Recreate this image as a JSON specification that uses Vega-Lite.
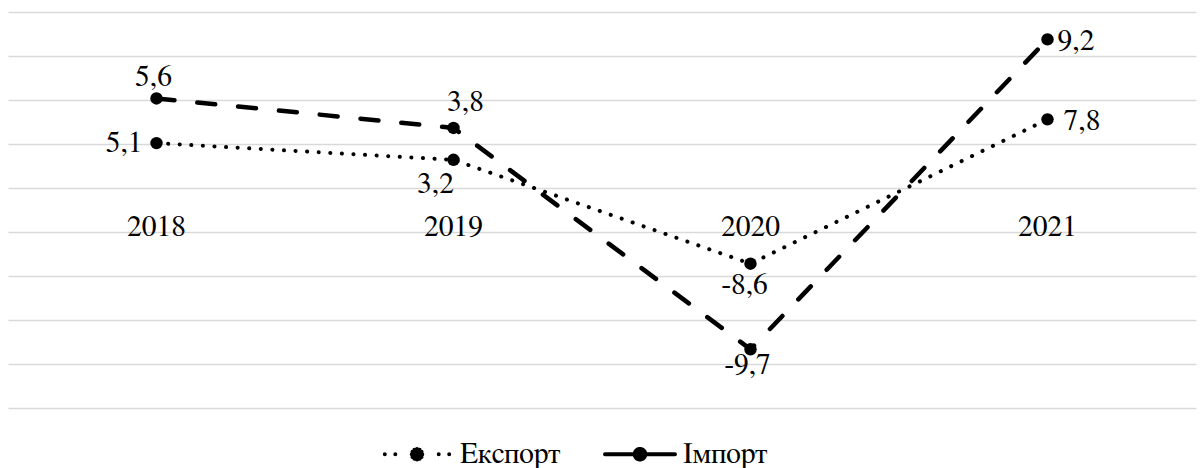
{
  "$schema": "https://vega.github.io/schema/vega-lite/v6.json",
  "width": 1188,
  "height": 396,
  "autosize": {"type": "none"},
  "padding": {"left": 8, "top": 12, "right": 4, "bottom": 60},
  "background": "white",
  "config": {
    "view": {"stroke": null},
    "locale": {"number": {"decimal": ",", "thousands": " ", "grouping": [3], "currency": ["", ""], "minus": "-"}},
    "text": {"font": "FreeSerif", "fontSize": 29.5, "fill": "black", "baseline": "middle"}
  },
  "data": {
    "values": [
      {"year": "2018", "series": "Експорт", "value": 5.1},
      {"year": "2019", "series": "Експорт", "value": 3.2},
      {"year": "2020", "series": "Експорт", "value": -8.6},
      {"year": "2021", "series": "Експорт", "value": 7.8},
      {"year": "2018", "series": "Імпорт", "value": 5.6},
      {"year": "2019", "series": "Імпорт", "value": 3.8},
      {"year": "2020", "series": "Імпорт", "value": -9.7},
      {"year": "2021", "series": "Імпорт", "value": 9.2}
    ]
  },
  "encoding": {
    "x": {"field": "year", "type": "ordinal", "scale": {"type": "point", "padding": 0.5}, "axis": null}
  },
  "layer": [
    {
      "transform": [{"filter": "datum.series === 'Експорт'"}],
      "encoding": {
        "y": {
          "field": "value", "type": "quantitative",
          "scale": {"domain": [-25, 20], "nice": false, "zero": false},
          "axis": {"values": [-25, -20, -15, -10, -5, 0, 5, 10, 15, 20], "grid": true, "gridColor": "#d9d9d9", "gridWidth": 1.3, "labels": false, "ticks": false, "domain": false, "title": null}
        }
      },
      "layer": [
        {
          "mark": {"type": "line", "strokeWidth": 4, "strokeCap": "round", "strokeDash": [0.1, 11.5]},
          "encoding": {
            "color": {
              "field": "series", "type": "nominal",
              "scale": {"domain": ["Експорт", "Імпорт"], "range": ["#000000", "#000000"]},
              "legend": {
                "orient": "none", "legendX": 372, "legendY": 405, "direction": "horizontal", "title": null,
                "symbolType": "M -0.92 0 l 0.0001 0 M -0.62 0 l 0.0001 0 M 0.62 0 l 0.0001 0 M 0.92 0 l 0.0001 0 M 0.15 0 A 0.15 0.15 0 1 1 -0.15 0 A 0.15 0.15 0 1 1 0.15 0 M 0.1299 0.075 l 0.0001 0 M 0.075 0.1299 l 0.0001 0 M 0 0.15 l 0.0001 0 M -0.075 0.1299 l 0.0001 0 M -0.1299 0.075 l 0.0001 0 M -0.15 0 l 0.0001 0 M -0.1299 -0.075 l 0.0001 0 M -0.075 -0.1299 l 0.0001 0 M 0 -0.15 l 0.0001 0 M 0.075 -0.1299 l 0.0001 0 M 0.1299 -0.075 l 0.0001 0 M 0 0 L 1 0 M 0 0 L -1 0",
                "symbolSize": 4900, "symbolStrokeWidth": 4, "symbolFillColor": "black", "symbolStrokeColor": "black",
                "labelFont": "FreeSerif", "labelFontSize": 29.5, "labelColor": "black", "labelOffset": 6, "columnPadding": 36,
                "encode": {"symbols": {"update": {
                  "strokeDash": {"signal": "datum.value === 'Імпорт' ? [1, 0] : [0.1, 300]"},
                  "strokeCap": {"value": "round"},
                  "fill": {"value": "black"},
                  "stroke": {"value": "black"},
                  "strokeWidth": {"value": 4}
                }}}
              }
            }
          }
        },
        {"mark": {"type": "point", "filled": true, "size": 155, "color": "black", "opacity": 1}},
        {"mark": {"type": "text", "dy": 48, "baseline": "alphabetic"}, "encoding": {"y": {"datum": 0}, "text": {"field": "year"}}},
        {"transform": [{"filter": "datum.year === '2018'"}], "mark": {"type": "text", "align": "right", "dx": -14, "dy": 0}, "encoding": {"text": {"field": "value", "type": "quantitative", "format": ".1f"}}},
        {"transform": [{"filter": "datum.year === '2019'"}], "mark": {"type": "text", "align": "center", "dx": -18, "dy": 24}, "encoding": {"text": {"field": "value", "type": "quantitative", "format": ".1f"}}},
        {"transform": [{"filter": "datum.year === '2020'"}], "mark": {"type": "text", "align": "center", "dx": -6, "dy": 21}, "encoding": {"text": {"field": "value", "type": "quantitative", "format": ".1f"}}},
        {"transform": [{"filter": "datum.year === '2021'"}], "mark": {"type": "text", "align": "left", "dx": 16, "dy": 2}, "encoding": {"text": {"field": "value", "type": "quantitative", "format": ".1f"}}}
      ]
    },
    {
      "transform": [{"filter": "datum.series === 'Імпорт'"}],
      "encoding": {
        "y": {
          "field": "value", "type": "quantitative",
          "scale": {"domain": [-13.28, 10.87], "nice": false, "zero": false},
          "axis": null
        }
      },
      "layer": [
        {
          "mark": {"type": "line", "strokeWidth": 4.5, "strokeCap": "round", "strokeDash": [18, 23]},
          "encoding": {"color": {"field": "series", "type": "nominal"}}
        },
        {"mark": {"type": "point", "filled": true, "size": 155, "color": "black", "opacity": 1}},
        {"transform": [{"filter": "datum.year === '2018'"}], "mark": {"type": "text", "align": "center", "dx": -3, "dy": -21}, "encoding": {"text": {"field": "value", "type": "quantitative", "format": ".1f"}}},
        {"transform": [{"filter": "datum.year === '2019'"}], "mark": {"type": "text", "align": "center", "dx": 12, "dy": -26}, "encoding": {"text": {"field": "value", "type": "quantitative", "format": ".1f"}}},
        {"transform": [{"filter": "datum.year === '2020'"}], "mark": {"type": "text", "align": "center", "dx": -3, "dy": 16}, "encoding": {"text": {"field": "value", "type": "quantitative", "format": ".1f"}}},
        {"transform": [{"filter": "datum.year === '2021'"}], "mark": {"type": "text", "align": "left", "dx": 10, "dy": 2}, "encoding": {"text": {"field": "value", "type": "quantitative", "format": ".1f"}}}
      ]
    }
  ],
  "resolve": {"scale": {"y": "independent"}}
}
